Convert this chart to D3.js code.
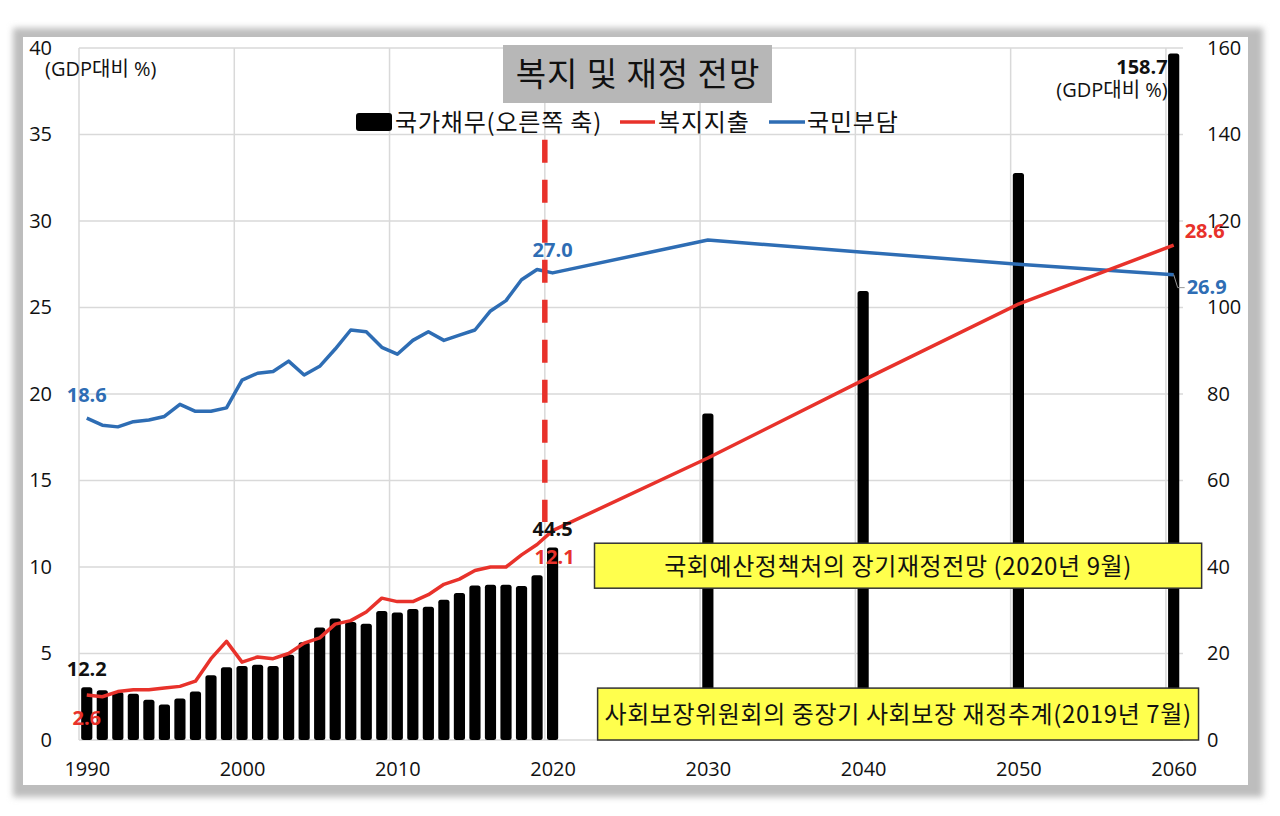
<!DOCTYPE html>
<html>
<head>
<meta charset="utf-8">
<script src="https://cdn.jsdelivr.net/npm/d3@7"></script>
<style>
  body { margin: 0; background: #fff; }
  svg { display: block; font-family: "Open Sans", "Noto Sans CJK KR", sans-serif; }
</style>
</head>
<body>
<div id="chart"></div>
<script>
const years = [1990, 1991, 1992, 1993, 1994, 1995, 1996, 1997, 1998, 1999,
               2000, 2001, 2002, 2003, 2004, 2005, 2006, 2007, 2008, 2009,
               2010, 2011, 2012, 2013, 2014, 2015, 2016, 2017, 2018, 2019,
               2020, 2030, 2040, 2050, 2060];

// 국가채무 (오른쪽 축, GDP대비 %)
const debt = [12.2, 11.5, 11.1, 10.7, 9.3, 8.2, 9.6, 11.2, 15.0, 16.8,
              17.1, 17.4, 17.1, 19.7, 22.6, 26.0, 28.1, 27.3, 26.9, 29.8,
              29.5, 30.3, 30.8, 32.4, 34.0, 35.7, 35.9, 35.9, 35.6, 38.1,
              44.5, 75.5, 103.8, 131.1, 158.7];

// 복지지출 (왼쪽 축)
const welfare = [2.6, 2.5, 2.8, 2.9, 2.9, 3.0, 3.1, 3.4, 4.7, 5.7,
                 4.5, 4.8, 4.7, 5.0, 5.6, 5.9, 6.7, 6.9, 7.4, 8.2,
                 8.0, 8.0, 8.4, 9.0, 9.3, 9.8, 10.0, 10.0, 10.7, 11.3,
                 12.1, 16.3, 20.8, 25.2, 28.6];

// 국민부담 (왼쪽 축)
const burden = [18.6, 18.2, 18.1, 18.4, 18.5, 18.7, 19.4, 19.0, 19.0, 19.2,
                20.8, 21.2, 21.3, 21.9, 21.1, 21.6, 22.6, 23.7, 23.6, 22.7,
                22.3, 23.1, 23.6, 23.1, 23.4, 23.7, 24.8, 25.4, 26.6, 27.2,
                27.0, 28.9, 28.2, 27.5, 26.9];

const xTicks = [1990, 2000, 2010, 2020, 2030, 2040, 2050, 2060];
const leftTicks = [0, 5, 10, 15, 20, 25, 30, 35, 40];
const rightTicks = [0, 20, 40, 60, 80, 100, 120, 140, 160];
const gridYears = [1989.5, 1999.5, 2009.5, 2019.5, 2029.5, 2039.5, 2049.5, 2059.5];
const splitYear = 2019.5;

const W = 1280, H = 816;
const plot = { left: 79, right: 1183, top: 48, bottom: 740 };

const red = "#e8322b", blue = "#2e6db4";
const kr = "'Noto Sans CJK KR', sans-serif";

const svg = d3.select("#chart").append("svg")
  .attr("width", W)
  .attr("height", H);

// frame with soft shadow
const defs = svg.append("defs");
defs.append("filter").attr("id", "blur")
  .attr("x", "-5%").attr("y", "-5%").attr("width", "110%").attr("height", "110%")
  .append("feGaussianBlur").attr("stdDeviation", 3);

svg.append("rect")
  .attr("x", 13).attr("y", 28).attr("width", 1250).attr("height", 769)
  .attr("fill", "#bdbdbd")
  .attr("filter", "url(#blur)");
svg.append("rect")
  .attr("x", 23).attr("y", 37).attr("width", 1225).attr("height", 748)
  .attr("fill", "#fff");

const data = years.map((y, i) => ({ year: y, debt: debt[i], welfare: welfare[i], burden: burden[i] }));

const x = d3.scaleLinear()
  .domain([1989.5, 2060.6])
  .range([plot.left, plot.right]);

const yL = d3.scaleLinear().domain([0, 40]).range([plot.bottom, plot.top]);
const yR = d3.scaleLinear().domain([0, 160]).range([plot.bottom, plot.top]);

// gridlines
svg.append("g").selectAll("line")
  .data(leftTicks)
  .join("line")
  .attr("x1", plot.left).attr("x2", plot.right)
  .attr("y1", d => yL(d)).attr("y2", d => yL(d))
  .attr("stroke", "#d9d9d9").attr("stroke-width", 1.5);

svg.append("g").selectAll("line")
  .data(gridYears)
  .join("line")
  .attr("x1", d => x(d)).attr("x2", d => x(d))
  .attr("y1", plot.top).attr("y2", plot.bottom)
  .attr("stroke", "#d9d9d9").attr("stroke-width", 1.5);

// axes
const axisStyle = g => {
  g.select(".domain").remove();
  g.selectAll("text").style("font-size", "20px").attr("fill", "#111")
    .style("font-family", "'Open Sans', sans-serif");
};

svg.append("g")
  .attr("transform", `translate(56,0)`)
  .call(d3.axisLeft(yL).tickValues(leftTicks).tickSize(0).tickPadding(4))
  .call(axisStyle);

svg.append("g")
  .attr("transform", `translate(1203,0)`)
  .call(d3.axisRight(yR).tickValues(rightTicks).tickSize(0).tickPadding(4))
  .call(axisStyle);

svg.append("g")
  .attr("transform", `translate(0,${plot.bottom})`)
  .call(d3.axisBottom(x).tickValues(xTicks).tickFormat(d3.format("d")).tickSize(0).tickPadding(22))
  .call(axisStyle);

// debt bars
const barW = x(1990.36) - x(1989.64);
svg.append("g").selectAll("rect")
  .data(data)
  .join("rect")
  .attr("x", d => x(d.year) - barW / 2)
  .attr("y", d => yR(d.debt))
  .attr("width", barW)
  .attr("height", d => yR(0) - yR(d.debt))
  .attr("rx", 2.5)
  .attr("fill", "#000");

// annotation boxes (drawn over the bars)
const boxes = [
  { text: "국회예산정책처의 장기재정전망 (2020년 9월)", x0: 2022.7, x1: 2061.8, v0: 35.1, v1: 45.5 },
  { text: "사회보장위원회의 중장기 사회보장 재정추계(2019년 7월)", x0: 2022.9, x1: 2061.6, v0: 0, v1: 12.0 }
];
const box = svg.append("g").selectAll("g").data(boxes).join("g");
box.append("rect")
  .attr("x", d => x(d.x0))
  .attr("y", d => yR(d.v1))
  .attr("width", d => x(d.x1) - x(d.x0))
  .attr("height", d => yR(d.v0) - yR(d.v1))
  .attr("fill", "#ffff4d")
  .attr("stroke", "#333")
  .attr("stroke-width", 1.5);
box.append("text")
  .attr("x", d => (x(d.x0) + x(d.x1)) / 2)
  .attr("y", d => (yR(d.v0) + yR(d.v1)) / 2)
  .attr("dy", "0.38em")
  .attr("text-anchor", "middle")
  .style("font-family", kr)
  .style("font-size", "24px")
  .style("letter-spacing", "0.6px")
  .attr("fill", "#111")
  .text(d => d.text);

// lines
const lineL = key => d3.line().x(d => x(d.year)).y(d => yL(d[key]));

svg.append("path")
  .datum(data)
  .attr("d", lineL("burden"))
  .attr("fill", "none")
  .attr("stroke", blue)
  .attr("stroke-width", 3.5)
  .attr("stroke-linejoin", "round");

svg.append("path")
  .datum(data)
  .attr("d", lineL("welfare"))
  .attr("fill", "none")
  .attr("stroke", red)
  .attr("stroke-width", 3.5)
  .attr("stroke-linejoin", "round");

// split line between actual and projection
svg.append("line")
  .attr("x1", x(splitYear)).attr("x2", x(splitYear))
  .attr("y1", yL(34.7)).attr("y2", yL(12.6))
  .attr("stroke", red)
  .attr("stroke-width", 5.5)
  .attr("stroke-dasharray", "23,17");

// data labels
const first = data[0];
const cur = data.find(d => d.year === 2020);
const last = data[data.length - 1];

const labels = [
  { t: first.debt.toFixed(1), x: x(first.year), y: yR(first.debt) - 11, c: "#111", a: "middle" },
  { t: first.welfare.toFixed(1), x: x(first.year), y: yL(first.welfare) + 30, c: red, a: "middle" },
  { t: first.burden.toFixed(1), x: x(first.year), y: yL(first.burden) - 16, c: blue, a: "middle" },
  { t: cur.burden.toFixed(1), x: x(cur.year), y: yL(cur.burden) - 16, c: blue, a: "middle" },
  { t: cur.debt.toFixed(1), x: x(cur.year), y: yR(cur.debt) - 12, c: "#111", a: "middle" },
  { t: cur.welfare.toFixed(1), x: x(cur.year) + 2, y: yL(cur.welfare) + 33, c: red, a: "middle" },
  { t: last.debt.toFixed(1), x: x(last.year) - 6, y: yR(last.debt) + 20, c: "#111", a: "end" },
  { t: last.welfare.toFixed(1), x: x(last.year) + 11, y: yL(last.welfare) - 7, c: red, a: "start" },
  { t: last.burden.toFixed(1), x: x(last.year) + 13, y: yL(last.burden) + 19, c: blue, a: "start" }
];

svg.append("g").selectAll("text")
  .data(labels)
  .join("text")
  .attr("x", d => d.x)
  .attr("y", d => d.y)
  .attr("text-anchor", d => d.a)
  .attr("fill", d => d.c)
  .style("font-size", "20px")
  .style("font-weight", "bold")
  .text(d => d.t);

// leader line for 26.9
svg.append("path")
  .attr("d", `M${x(last.year)},${yL(last.burden)} L${x(last.year) + 4},${yL(last.burden) + 13} L${x(last.year) + 11},${yL(last.burden) + 13}`)
  .attr("fill", "none")
  .attr("stroke", "#999")
  .attr("stroke-width", 1);

// unit notes
svg.append("text")
  .attr("x", 45).attr("y", 76)
  .style("font-size", "20px")
  .attr("fill", "#111")
  .text("(GDP대비 %)");

svg.append("text")
  .attr("x", x(last.year) - 6).attr("y", 97)
  .attr("text-anchor", "end")
  .style("font-size", "20px")
  .attr("fill", "#111")
  .text("(GDP대비 %)");

// title
const title = svg.append("g");
title.append("rect")
  .attr("x", 503).attr("y", 45)
  .attr("width", 269).attr("height", 58)
  .attr("fill", "#b7b7b7");
title.append("text")
  .attr("x", 638).attr("y", 74)
  .attr("dy", "0.36em")
  .attr("text-anchor", "middle")
  .style("font-family", kr)
  .style("font-size", "33px")
  .style("letter-spacing", "1px")
  .attr("fill", "#111")
  .text("복지 및 재정 전망");

// legend
const legend = svg.append("g")
  .style("font-family", kr)
  .style("font-size", "24px")
  .style("letter-spacing", "0.8px");
legend.append("rect")
  .attr("x", 356).attr("y", 113).attr("width", 36).attr("height", 18)
  .attr("rx", 3).attr("fill", "#000");
legend.append("text").attr("x", 395).attr("y", 122).attr("dy", "0.36em").attr("fill", "#111").text("국가채무(오른쪽 축)");
legend.append("line").attr("x1", 620).attr("x2", 655).attr("y1", 122).attr("y2", 122)
  .attr("stroke", red).attr("stroke-width", 3.5);
legend.append("text").attr("x", 658).attr("y", 122).attr("dy", "0.36em").attr("fill", "#111").text("복지지출");
legend.append("line").attr("x1", 769).attr("x2", 805).attr("y1", 122).attr("y2", 122)
  .attr("stroke", blue).attr("stroke-width", 3.5);
legend.append("text").attr("x", 807).attr("y", 122).attr("dy", "0.36em").attr("fill", "#111").text("국민부담");
</script>
</body>
</html>
